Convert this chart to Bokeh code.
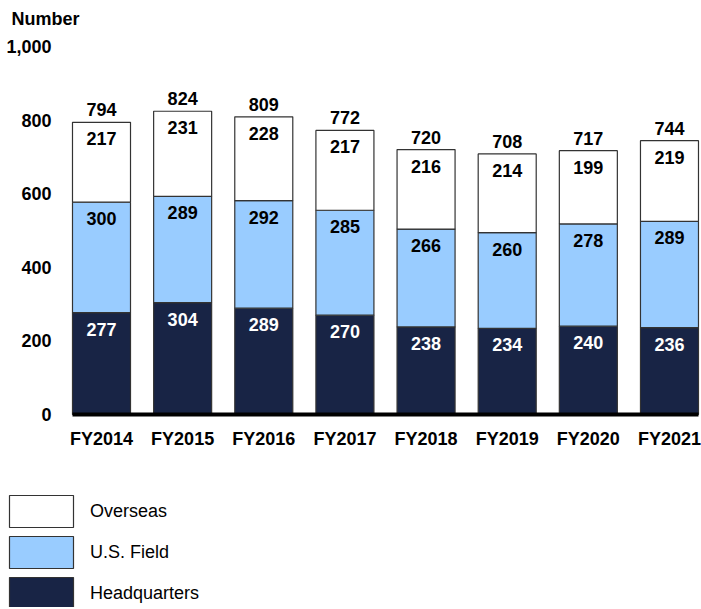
from bokeh.plotting import figure
from bokeh.models import (ColumnDataSource, Range1d, FixedTicker, NumeralTickFormatter,
                          Legend, LegendItem, Label)
from bokeh.core.properties import value
from bokeh.embed import file_html
from bokeh.resources import INLINE

years = ["FY2014", "FY2015", "FY2016", "FY2017", "FY2018", "FY2019", "FY2020", "FY2021"]
headquarters = [277, 304, 289, 270, 238, 234, 240, 236]
us_field = [300, 289, 292, 285, 266, 260, 278, 289]
overseas = [217, 231, 228, 217, 216, 214, 199, 219]
totals = [794, 824, 809, 772, 720, 708, 717, 744]
y_ticks = [0, 200, 400, 600, 800, 1000]
series_names = ["Overseas", "U.S. Field", "Headquarters"]
y_title = "Number"

FONT = "Liberation Sans"
NAVY = "#182445"
LIGHT = "#99ccff"
EDGE = "#333333"
FS = "18px"

W, H = 701, 607
idx = list(range(len(years)))
hq_top = headquarters
field_top = [h + f for h, f in zip(headquarters, us_field)]
over_top = [a + o for a, o in zip(field_top, overseas)]

src = ColumnDataSource(dict(
    x=idx, hq_top=hq_top, field_top=field_top, over_top=over_top, zero=[0] * len(idx),
    total=totals,
    hq_lbl=[str(v) for v in headquarters],
    field_lbl=[str(v) for v in us_field],
    over_lbl=[str(v) for v in overseas],
    total_lbl=[str(v) for v in totals],
))

# layout: the frame fills the whole canvas; axes are pinned inside it
half = 0.357                      # half bar slot at the ends of the axis
px_per_cat = 81.14
px_per_unit = 0.368
x0_px, y0_px = 101, 414           # pixel position of first category / value 0
x_rng = Range1d(-x0_px / px_per_cat, (W - x0_px) / px_per_cat)
y_rng = Range1d(-(H - y0_px) / px_per_unit, y0_px / px_per_unit)

p = figure(width=W, height=H, output_backend="svg", toolbar_location=None,
           x_range=x_rng, y_range=y_rng,
           min_border_left=0, min_border_right=0, min_border_top=0, min_border_bottom=0)
p.outline_line_color = None
p.grid.visible = False

w = 0.715
bar_style = dict(width=w, source=src, line_color=EDGE, line_width=1.2)
r_hq = p.vbar(x="x", bottom="zero", top="hq_top", fill_color=NAVY, **bar_style)
r_field = p.vbar(x="x", bottom="hq_top", top="field_top", fill_color=LIGHT, **bar_style)
r_over = p.vbar(x="x", bottom="field_top", top="over_top", fill_color="white", **bar_style)

common = dict(text_font=value(FONT), text_font_size=FS, text_font_style="bold",
              text_align="center", source=src)
p.text(x="x", y="hq_top", text="hq_lbl", text_color="white",
       text_baseline="top", y_offset=10, **common)
p.text(x="x", y="field_top", text="field_lbl", text_color="black",
       text_baseline="top", y_offset=10, **common)
p.text(x="x", y="over_top", text="over_lbl", text_color="black",
       text_baseline="top", y_offset=10, **common)
p.text(x="x", y="total", text="total_lbl", text_color="black",
       text_baseline="bottom", y_offset=-6, **common)

p.xaxis.fixed_location = 0
p.xaxis.bounds = (-half, len(years) - 1 + half)
p.xaxis.ticker = FixedTicker(ticks=idx)
p.xaxis.major_label_overrides = {i: y for i, y in zip(idx, years)}
p.xaxis.major_label_text_font = FONT
p.xaxis.major_label_text_font_size = FS
p.xaxis.major_label_text_font_style = "bold"
p.xaxis.major_label_text_color = "black"
p.xaxis.axis_line_color = "black"
p.xaxis.axis_line_width = 4
p.xaxis.major_tick_line_color = None
p.xaxis.minor_tick_line_color = None
p.xaxis.major_label_standoff = 8

p.yaxis.fixed_location = -half
p.yaxis.ticker = FixedTicker(ticks=y_ticks)
p.yaxis.formatter = NumeralTickFormatter(format="0,0")
p.yaxis.major_label_text_font = FONT
p.yaxis.major_label_text_font_size = FS
p.yaxis.major_label_text_font_style = "bold"
p.yaxis.major_label_text_color = "black"
p.yaxis.axis_line_color = None
p.yaxis.major_tick_line_color = None
p.yaxis.minor_tick_line_color = None
p.yaxis.major_label_standoff = 15

p.add_layout(Label(x=11, y=H - 18, x_units="screen", y_units="screen", text=y_title,
                   text_font=FONT, text_font_size=FS, text_font_style="bold",
                   text_baseline="middle", text_color="black"))

legend = Legend(items=[
    LegendItem(label=series_names[0], renderers=[r_over]),
    LegendItem(label=series_names[1], renderers=[r_field]),
    LegendItem(label=series_names[2], renderers=[r_hq]),
], location=(1, -6), orientation="vertical", glyph_width=80, glyph_height=40,
    label_standoff=9, spacing=1, padding=0, margin=0,
    border_line_color=None, background_fill_alpha=0,
    label_text_font=FONT, label_text_font_size=FS, label_text_color="black",
    label_text_baseline="hanging")
p.add_layout(legend, "center")

open("out.html", "w").write(file_html(p, INLINE))
